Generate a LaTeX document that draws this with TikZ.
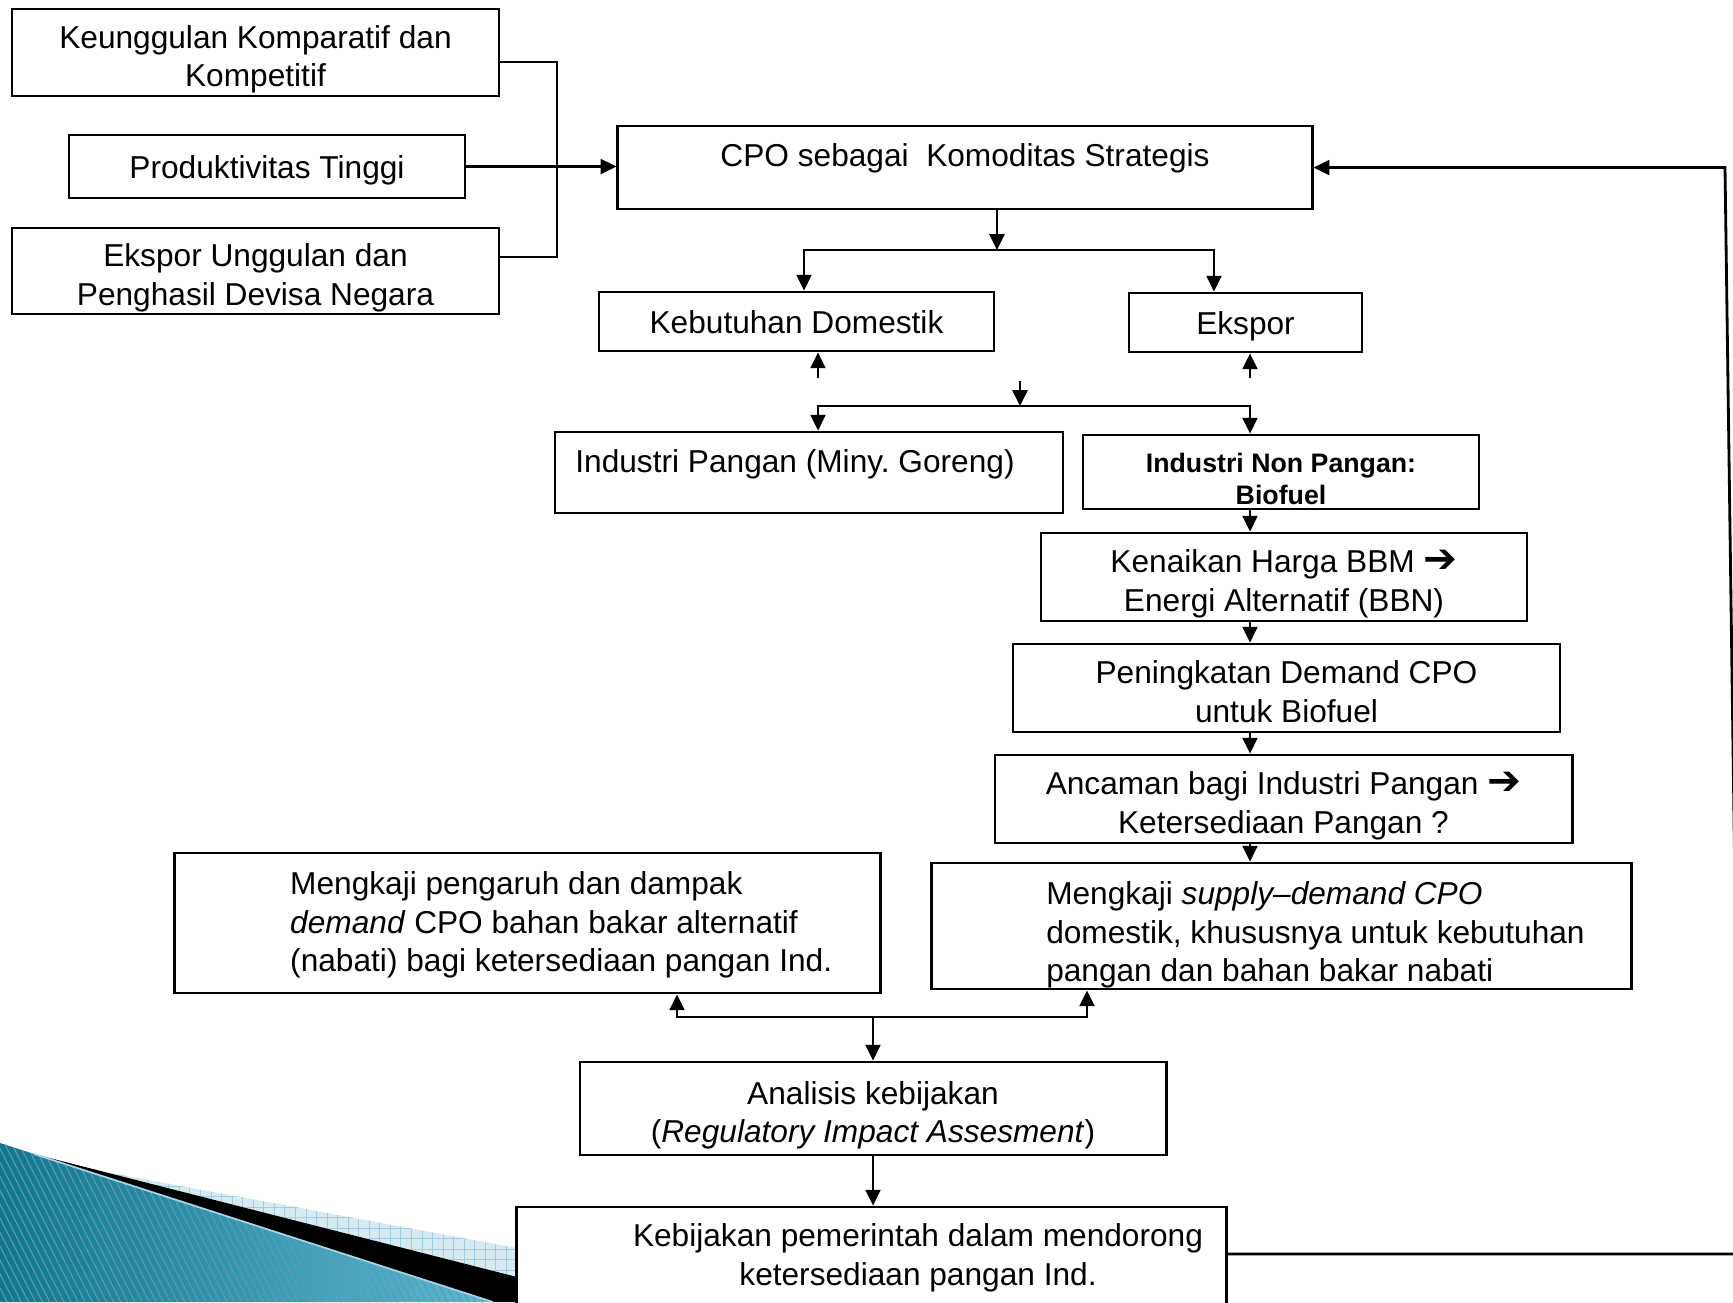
\documentclass[tikz,border=0pt]{standalone}
\usepackage{fontspec}
\setmainfont{Liberation Sans}
\newfontfamily\dejavu{DejaVu Sans}
\usetikzlibrary{arrows.meta,patterns.meta}

\definecolor{tealdark}{RGB}{14,118,146}
\definecolor{teallight}{RGB}{90,186,216}
\definecolor{stripe}{RGB}{8,80,104}
\definecolor{paleband}{RGB}{214,234,242}
\definecolor{palegrid}{RGB}{160,206,224}
\definecolor{edgeline}{RGB}{160,214,232}

\newcommand{\thickarrow}{{\dejavu\bfseries\fontsize{11.5}{10}\selectfont ➔}}

\begin{document}
\frenchspacing
\begin{tikzpicture}[x=0.01cm, y=-0.01cm,
		box/.style={draw, line width=0.75pt, fill=white, align=center, inner sep=0pt, font=\fontsize{9}{11}\selectfont,
			text height=8.5pt, text depth=1.9pt},
		twoline/.style={text height=21.6pt, text depth=2pt},
		txt/.style={align=left, inner sep=0pt, font=\fontsize{9}{11}\selectfont},
		link/.style={line width=0.8pt},
		arr/.style={line width=0.8pt, -{Triangle[length=4.5pt, width=4.2pt]}}]
		\useasboundingbox (0,0) rectangle (1733,1302);
		\clip (0,0) rectangle (1733,1302);
		
		% ornament of the slide, bottom left
		\shade[left color=tealdark, right color=teallight] (0,1143) -- (493,1302) -- (0,1302) -- cycle;
		\fill[pattern={Lines[angle=-63, distance=1.8pt, line width=0.3pt]}, pattern color=stripe!60] (0,1143) -- (493,1302) -- (0,1302) -- cycle;
		\fill[paleband] (100,1171) -- (517,1248) -- (517,1277) -- cycle;
		\fill[pattern={Hatch[angle=0, distance=3pt, line width=0.25pt]}, pattern color=palegrid] (100,1171) -- (517,1248) -- (517,1277) -- cycle;
		\fill[black] (34,1154) -- (517,1277) -- (517,1302) -- (493,1302) -- cycle;
		\draw[edgeline, line width=0.5pt] (34,1154) -- (493,1302);
		
		% left column
		\node[box, twoline, minimum width=4.87cm, minimum height=0.87cm] (kk) at (255.5,52.5) {Keunggulan Komparatif dan\\Kompetitif};
		\node[box, minimum width=3.96cm, minimum height=0.63cm] (prod) at (267,166.5) {Produktivitas Tinggi};
		\node[box, twoline, minimum width=4.87cm, minimum height=0.86cm] (eks) at (255.5,271) {Ekspor Unggulan dan\\Penghasil Devisa Negara};
		
		% CPO and its branches
		\node[box, minimum width=6.94cm, minimum height=0.83cm] (cpo) at (965,167.5) {};
		\node[txt] (cpotxt) at ([yshift=0.09cm]cpo.center) {CPO sebagai\ \ Komoditas Strategis};
		\node[box, minimum width=3.95cm, minimum height=0.59cm] (dom) at (796.5,321.5) {Kebutuhan Domestik};
		\node[box, minimum width=2.33cm, minimum height=0.59cm] (exp) at (1245.5,322.5) {Ekspor};
		\node[box, minimum width=5.08cm, minimum height=0.81cm] (pangan) at (809,472.5) {};
		\node[txt] (pangantxt) at ([xshift=-0.14cm, yshift=0.08cm]pangan.center) {Industri Pangan (Miny. Goreng)};
		\node[box, minimum width=3.96cm, minimum height=0.74cm, text height=19.4pt, text depth=1pt,
			font=\fontsize{7.6}{9.1}\selectfont\bfseries] (nonp) at (1281,472) {Industri Non Pangan:\\Biofuel};
		
		% biofuel chain
		\node[box, twoline, minimum width=4.86cm, minimum height=0.88cm] (bbm) at (1284,577) {Kenaikan Harga BBM \thickarrow\\Energi Alternatif (BBN)};
		\node[box, twoline, minimum width=5.47cm, minimum height=0.88cm] (dem) at (1286.5,688) {Peningkatan Demand CPO\\untuk Biofuel};
		\node[box, twoline, minimum width=5.77cm, minimum height=0.88cm] (anc) at (1283.5,799) {Ancaman bagi Industri Pangan \thickarrow\\Ketersediaan Pangan ?};
		\node[box, minimum width=6.99cm, minimum height=1.26cm] (sd) at (1281.5,926) {};
		\node[txt, anchor=west] (sdtxt) at ([xshift=1.15cm, yshift=-0.09cm]sd.west) {Mengkaji \textit{supply–demand CPO}\\domestik, khususnya untuk kebutuhan\\pangan dan bahan bakar nabati};
		\node[box, minimum width=7.05cm, minimum height=1.40cm] (pd) at (527.5,923) {};
		\node[txt, anchor=west] (pdtxt) at ([xshift=1.16cm, yshift=-0.02cm]pd.west) {Mengkaji pengaruh dan dampak\\\textit{demand} CPO bahan bakar alternatif\\(nabati) bagi ketersediaan pangan Ind.};
		
		% policy
		\node[box, twoline, minimum width=5.86cm, minimum height=0.93cm] (ana) at (873,1108.5) {Analisis kebijakan\\(\textit{Regulatory Impact Assesment})};
		\node[box, minimum width=7.09cm, minimum height=1.13cm] (keb) at (871.5,1263.5) {};
		\node[txt, align=center] (kebtxt) at ([xshift=0.465cm, yshift=0.06cm]keb.center) {Kebijakan pemerintah dalam mendorong\\ketersediaan pangan Ind.};
		
		% connectors
		\coordinate (bus) at (557,166.5);
		\coordinate (s1) at (997,250);
		\coordinate (u1) at (818,378);
		\coordinate (u2) at (1250,378);
		\coordinate (t2) at (1020,381);
		\coordinate (s2) at (1020,406);
		\coordinate (spine) at (1250,0);
		\coordinate (l3) at (677,1017);
		\coordinate (r3) at (1087,1017);
		\coordinate (fb1) at (1740,1254);
		\coordinate (fb2) at (1725,167.5);
		
		\draw[link] ([yshift=-0.095cm]kk.east) -| (bus) |- ([yshift=0.14cm]eks.east);
		\draw[arr] (prod.east) -- (prod.east -| cpo.west);
		\draw[arr] (cpo.south -| s1) -- (s1);
		\draw[arr] (s1) -| ([xshift=0.075cm]dom.north);
		\draw[arr] (s1) -| ([xshift=-0.315cm]exp.north);
		\draw[arr] (u1) -- (u1 |- dom.south);
		\draw[arr] (u2) -- (u2 |- exp.south);
		\draw[arr] (t2) -- (s2);
		\draw[arr] (s2) -| ([xshift=0.09cm]pangan.north);
		\draw[arr] (s2) -| (nonp.north -| spine);
		\draw[arr] (nonp.south -| spine) -- (bbm.north -| spine);
		\draw[arr] (bbm.south -| spine) -- (dem.north -| spine);
		\draw[arr] (dem.south -| spine) -- (anc.north -| spine);
		\draw[arr] (anc.south -| spine) -- (sd.north -| spine);
		\draw[arr] (r3) -- (l3) -- (l3 |- pd.south);
		\draw[arr] (l3) -- (r3) -- (r3 |- sd.south);
		\draw[arr] (l3 -| ana.north) -- (ana.north);
		\draw[arr] (ana.south) -- (ana.south |- keb.north);
		\draw[arr] (keb.east |- fb1) -- (fb1) -- (fb2) -- (cpo.east);
	\end{tikzpicture}
\end{document}
